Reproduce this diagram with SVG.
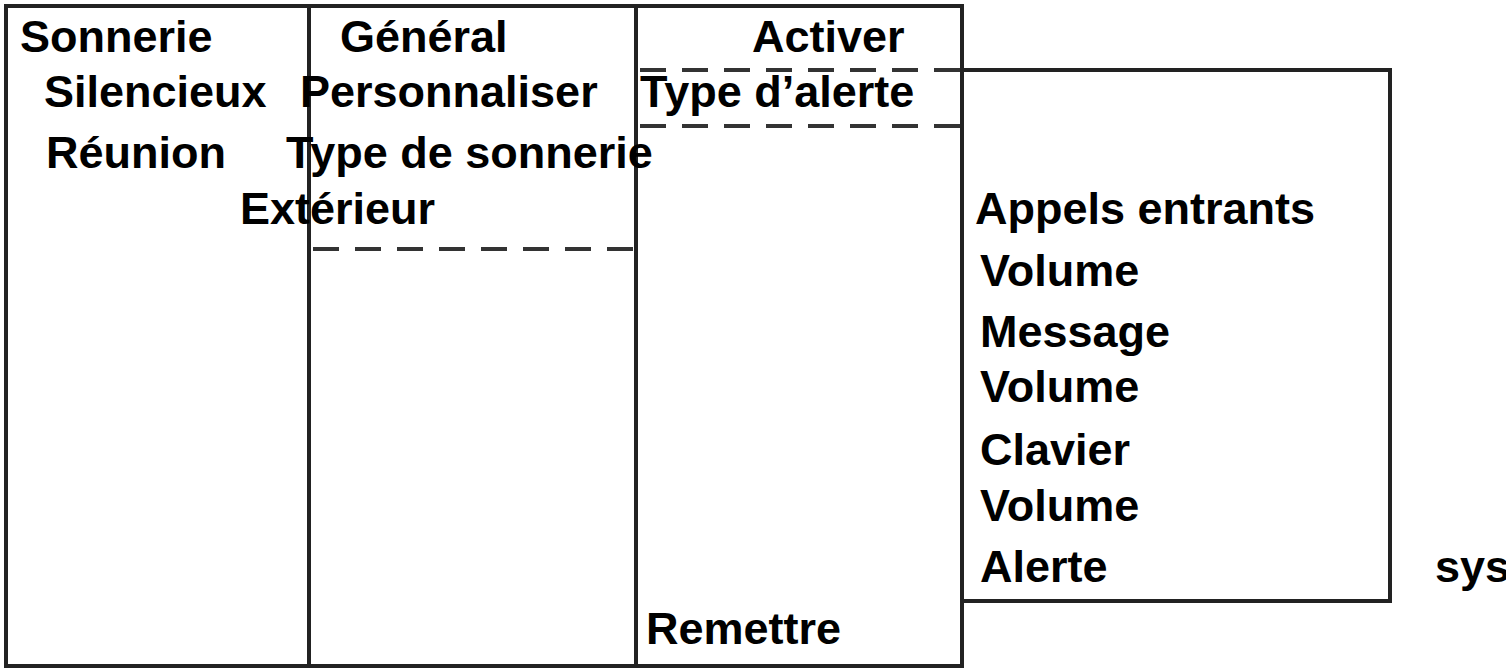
<svg xmlns="http://www.w3.org/2000/svg" width="1506" height="670" viewBox="0 0 1506 670">
<style>
.b{fill:none;stroke:#222;stroke-width:4}
.d{fill:none;stroke:#333;stroke-width:4;stroke-dasharray:26 16}
text{font-family:"Liberation Sans",Arial,sans-serif;font-weight:bold;font-size:45px;fill:#000}
</style>
<rect width="1506" height="670" fill="#fff"/>
<g id="connectors">
<rect class="b" x="6" y="6" width="956" height="660"/>
<line class="b" x1="309" y1="6" x2="309" y2="666"/>
<line class="b" x1="636" y1="6" x2="636" y2="666"/>
<polyline class="b" points="962,70 1390,70 1390,601 962,601"/>
<line class="d" x1="640" y1="70" x2="962" y2="70"/>
<line class="d" x1="640" y1="126" x2="962" y2="126"/>
<line class="d" x1="313" y1="249" x2="636" y2="249"/>
</g>
<g id="col1"><text x="20" y="52">Sonnerie</text><text x="44" y="107">Silencieux</text><text x="46" y="168">Réunion</text><text x="240" y="224">Extérieur</text></g>
<g id="col2"><text x="340" y="52">Général</text><text x="300" y="107">Personnaliser</text><text x="286" y="168">Type de sonnerie</text></g>
<g id="col3"><text x="752" y="52">Activer</text><text x="640" y="107">Type d’alerte</text><text x="646" y="644">Remettre</text></g>
<g id="col4"><text x="975" y="224">Appels entrants</text><text x="980" y="286">Volume</text><text x="980" y="347">Message</text><text x="980" y="402">Volume</text><text x="980" y="465">Clavier</text><text x="980" y="521">Volume</text><text x="980" y="582">Alerte</text><text x="1435" y="582">sys</text></g>
</svg>
